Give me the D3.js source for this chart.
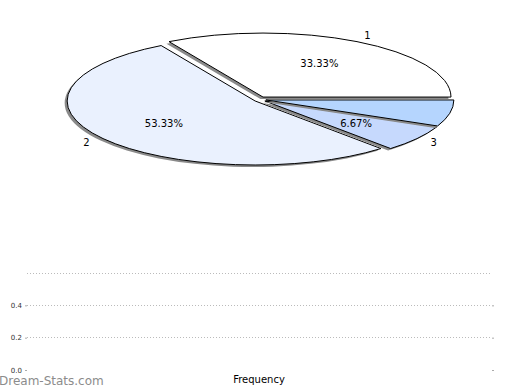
<!DOCTYPE html>
<html><head><meta charset="utf-8">
<script src="https://cdn.jsdelivr.net/npm/d3@7"></script>
<style>body{margin:0;background:#fff}svg{display:block}</style>
</head><body>
<svg id="c" width="520" height="390"></svg>
<script>
const categories = ["1", "2", "3", ""];
const frequencies = [5, 8, 1, 1];
const sliceColors = ["#ffffff", "#eaf1fe", "#c6d9fd", "#b5d5fe"];
const yTicks = [0, 0.2, 0.4];
const yGridTop = 0.6;
const xLabel = "Frequency";
const watermark = "Dream-Stats.com";

const svg = d3.select("#c");
const font = "DejaVu Sans, sans-serif";

// ---- pie ----
const cx = 260, cy = 99.4, rx = 188, ry = 64, k = ry / rx;
const explode = 6, ey = 0.45;
const total = d3.sum(frequencies);
const pie = d3.pie().sort(null).startAngle(Math.PI / 2).endAngle(Math.PI / 2 - 2 * Math.PI);
const arcs = pie(frequencies);
const arc = d3.arc().innerRadius(0).outerRadius(rx);
const pg = svg.append("g");

arcs.forEach((a, i) => {
  const mid = (a.startAngle + a.endAngle) / 2;
  a.ox = cx + explode * Math.sin(mid);
  a.oy = cy - explode * Math.cos(mid) * ey;
  a.mid = mid;
});
// shadows
arcs.forEach((a, i) => {
  pg.append("path").attr("d", arc(a))
    .attr("transform", `translate(${a.ox - 2.5},${a.oy + 2}) scale(1,${k})`)
    .attr("fill", "#8a8a8a");
  pg.append("path").attr("d", arc(a))
    .attr("transform", `translate(${a.ox},${a.oy}) scale(1,${k})`)
    .attr("fill", sliceColors[i]).attr("stroke", "#000").attr("stroke-width", 1)
    .attr("vector-effect", "non-scaling-stroke");
});
arcs.forEach((a, i) => {
  if (!categories[i]) return;
  const px = a.ox + 0.6 * rx * Math.sin(a.mid);
  const py = a.oy - 0.6 * ry * Math.cos(a.mid);
  pg.append("text").attr("x", px).attr("y", py).attr("text-anchor", "middle")
    .attr("dominant-baseline", "middle").attr("font-family", font).attr("font-size", 10)
    .text((frequencies[i] / total * 100).toFixed(2) + "%");
  const lx = a.ox + 1.11 * rx * Math.sin(a.mid);
  const ly = a.oy - 1.11 * ry * Math.cos(a.mid);
  pg.append("text").attr("x", lx).attr("y", ly).attr("text-anchor", "middle")
    .attr("dominant-baseline", "middle").attr("font-family", font).attr("font-size", 10)
    .text(categories[i]);
});

// ---- lower axis panel ----
const x0 = 27, x1 = 492;
const y = d3.scaleLinear().domain([0, yGridTop]).range([370, 273]);
const ag = svg.append("g");
[...yTicks.filter(v => v > 0), yGridTop].forEach(v => {
  ag.append("line").attr("x1", x0).attr("x2", x1).attr("y1", y(v)).attr("y2", y(v))
    .attr("stroke", "#bbb").attr("stroke-width", 1).attr("stroke-dasharray", "1,2")
    .attr("shape-rendering", "crispEdges");
});
const left = ag.append("g").attr("transform", `translate(${x0},0)`)
  .call(d3.axisLeft(y).tickValues(yTicks).tickSize(2).tickPadding(3).tickFormat(d3.format(".1f")));
left.select(".domain").remove();
left.selectAll(".tick line").attr("stroke", "#aaa");
left.selectAll(".tick text").attr("font-family", font).attr("font-size", 7).attr("fill", "#333");
const right = ag.append("g").attr("transform", `translate(${x1},0)`)
  .call(d3.axisRight(y).tickValues(yTicks).tickSize(2).tickFormat(""));
right.select(".domain").remove();
right.selectAll(".tick line").attr("stroke", "#aaa");

svg.append("text").attr("x", 259).attr("y", 383).attr("text-anchor", "middle")
  .attr("font-family", font).attr("font-size", 10).attr("fill", "#000").text(xLabel);
svg.append("text").attr("x", -1).attr("y", 385).attr("font-family", font)
  .attr("font-size", 12).attr("fill", "#8c8c8c").text(watermark);
</script>
</body></html>
